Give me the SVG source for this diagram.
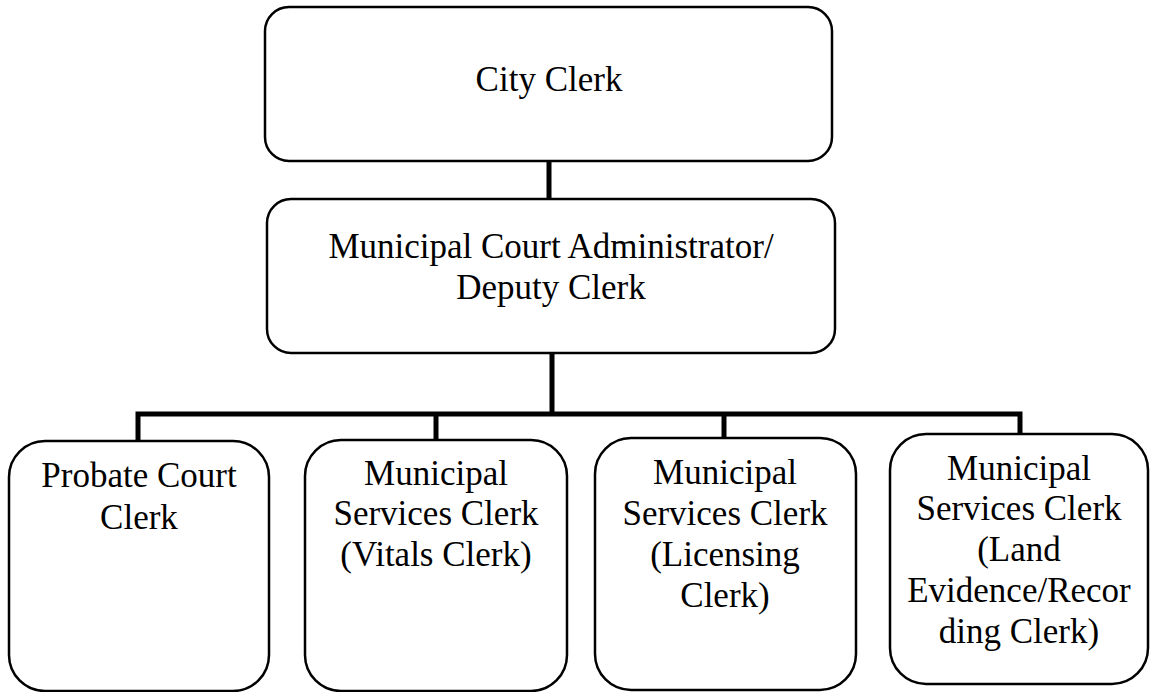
<svg xmlns="http://www.w3.org/2000/svg" width="1153" height="692" viewBox="0 0 1153 692">
<style>
.box{fill:#fff;stroke:#000;stroke-width:2.5}
.t{font-family:"Liberation Serif","Times New Roman",serif;font-size:35px;fill:#000;text-anchor:middle}
.c{stroke:#000;stroke-width:5;fill:none}
</style>
<rect width="1153" height="692" fill="#fff"/>
<g id="connectors">
<line class="c" x1="549" y1="161" x2="549" y2="200"/>
<line class="c" x1="552" y1="353" x2="552" y2="414"/>
<polyline class="c" points="138,441 138,414 1020,414 1020,435"/>
<line class="c" x1="436" y1="414" x2="436" y2="440"/>
<line class="c" x1="724" y1="414" x2="724" y2="439"/>
</g>
<g id="city-clerk">
<rect class="box" x="265" y="7" width="567" height="154" rx="24"/>
<text class="t" x="549" y="91">City Clerk</text>
</g>
<g id="court-administrator">
<rect class="box" x="267" y="199" width="568" height="154" rx="24"/>
<text class="t" x="551" y="258">Municipal Court Administrator/</text>
<text class="t" x="551" y="299">Deputy Clerk</text>
</g>
<g id="probate-clerk">
<rect class="box" x="9" y="441" width="260" height="250" rx="36"/>
<text class="t" x="139" y="487">Probate Court</text>
<text class="t" x="139" y="529">Clerk</text>
</g>
<g id="vitals-clerk">
<rect class="box" x="305" y="440" width="262" height="251" rx="36"/>
<text class="t" x="436" y="485">Municipal</text>
<text class="t" x="436" y="525">Services Clerk</text>
<text class="t" x="436" y="566">(Vitals Clerk)</text>
</g>
<g id="licensing-clerk">
<rect class="box" x="595" y="438" width="261" height="252" rx="36"/>
<text class="t" x="725" y="484">Municipal</text>
<text class="t" x="725" y="525">Services Clerk</text>
<text class="t" x="725" y="566">(Licensing</text>
<text class="t" x="725" y="607">Clerk)</text>
</g>
<g id="land-evidence-clerk">
<rect class="box" x="890" y="434" width="258" height="250" rx="36"/>
<text class="t" x="1019" y="480">Municipal</text>
<text class="t" x="1019" y="520">Services Clerk</text>
<text class="t" x="1019" y="561">(Land</text>
<text class="t" x="1019" y="602">Evidence/Recor</text>
<text class="t" x="1019" y="643">ding Clerk)</text>
</g>
</svg>
